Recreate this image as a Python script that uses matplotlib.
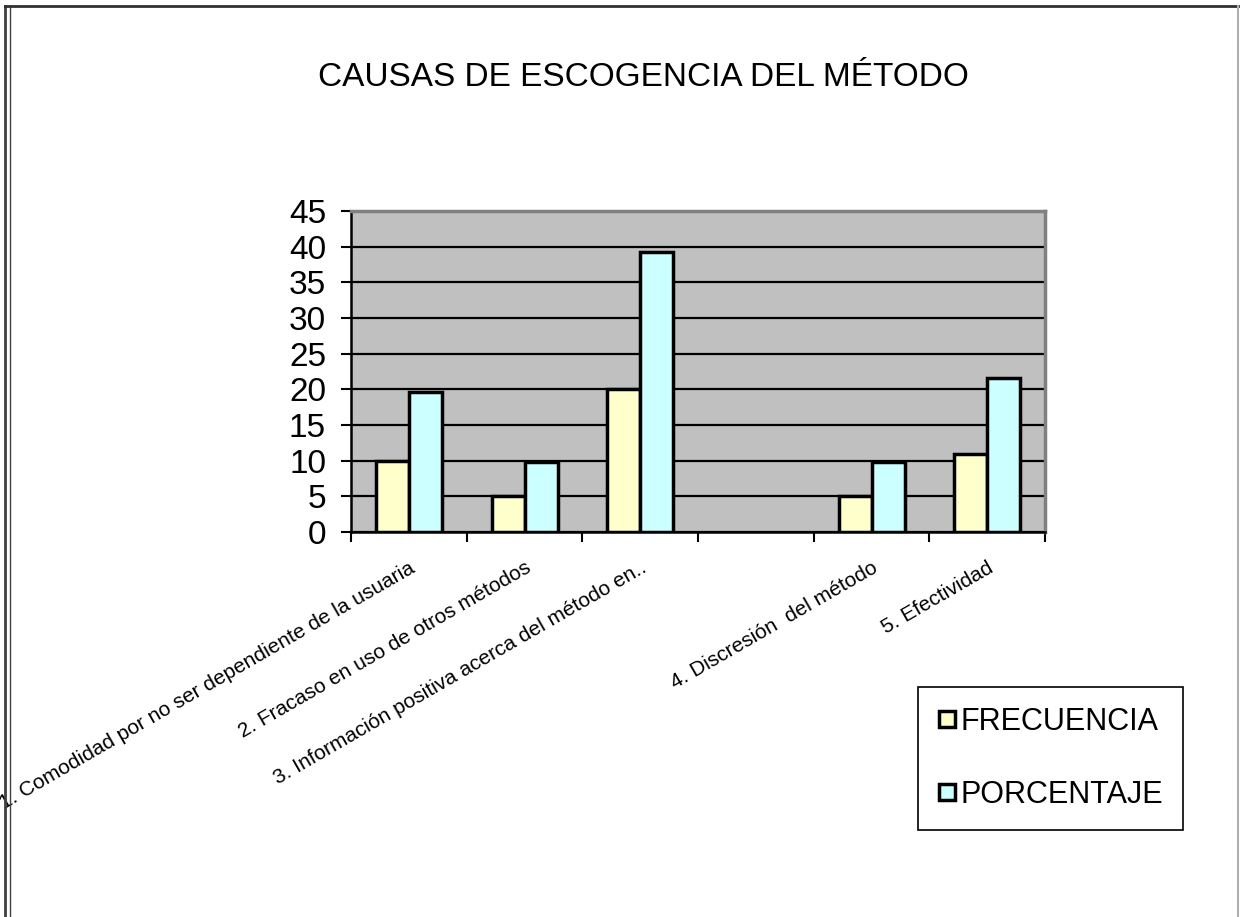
import matplotlib
matplotlib.use('Agg')
import matplotlib.pyplot as plt
import numpy as np
from matplotlib.lines import Line2D

categorias = ['1. Comodidad por no ser dependiente de la usuaria',
              '2. Fracaso en uso de otros métodos',
              '3. Información positiva acerca del método en..',
              '',
              '4. Discresión  del método',
              '5. Efectividad']
frecuencia = [10, 5, 20, np.nan, 5, 11]
porcentaje = [19.6, 9.8, 39.2, np.nan, 9.8, 21.6]
series = ['FRECUENCIA', 'PORCENTAJE']
colores = ['#FFFFCC', '#CCFFFF']

plt.rcParams['font.family'] = ['Liberation Sans', 'DejaVu Sans']

fig = plt.figure(figsize=(12.4, 9.17), dpi=100)
ax = fig.add_axes([0.2831, 0.4198, 0.5597, 0.3501])
ax.set_facecolor('#C0C0C0')

x = np.arange(len(categorias))
w = 2 / 7
ax.bar(x - w / 2, frecuencia, w, color=colores[0], edgecolor='black', linewidth=2.5, zorder=3)
ax.bar(x + w / 2, porcentaje, w, color=colores[1], edgecolor='black', linewidth=2.5, zorder=3)

ax.set_ylim(0, 45)
ax.set_xlim(-0.5, len(categorias) - 0.5)
ax.set_yticks(np.arange(0, 46, 5))
ax.yaxis.grid(True, color='black', linewidth=1.6, zorder=1)
ax.set_axisbelow(True)

ax.set_xticks(np.arange(-0.5, len(categorias), 1))
ax.set_xticklabels([])
ax.set_xticks(x, minor=True)
ax.set_xticklabels(categorias, minor=True, rotation=30, ha='right',
                   rotation_mode='anchor', fontsize=15)
ax.tick_params(axis='x', which='minor', length=0, pad=19)
ax.tick_params(axis='x', which='major', length=7, width=1.5, direction='out')
ax.tick_params(axis='y', length=7, width=1.5, direction='out', pad=11, labelsize=24)

ax.spines['left'].set_linewidth(1.8)
ax.spines['bottom'].set_linewidth(1.8)
ax.spines['top'].set_color('#808080')
ax.spines['right'].set_color('#808080')
ax.spines['top'].set_linewidth(2.5)
ax.spines['right'].set_linewidth(2.5)

fig.text(0.519, 0.915, 'CAUSAS DE ESCOGENCIA DEL MÉTODO', ha='center', va='center', fontsize=24)

handles = [Line2D([], [], marker='s', linestyle='none', markersize=12,
                  markerfacecolor=c, markeredgecolor='black', markeredgewidth=2.5)
           for c in colores]
leg = fig.legend(handles, series, loc='upper left', bbox_to_anchor=(0.740, 0.2508),
                 frameon=True, fancybox=False, edgecolor='black', framealpha=1,
                 prop={'size': 22}, handlelength=0.6,
                 handletextpad=0.15, labelspacing=1.4, borderpad=0.65, borderaxespad=0)
leg.get_frame().set_linewidth(1.2)

# marco de la figura
fig.add_artist(Line2D([0.004, 0.004], [0, 0.994], color='#404040', linewidth=2, transform=fig.transFigure))
fig.add_artist(Line2D([0.008, 0.008], [0, 0.994], color='#404040', linewidth=1, transform=fig.transFigure))
fig.add_artist(Line2D([0.004, 0.998], [0.994, 0.994], color='#303030', linewidth=2, transform=fig.transFigure))
fig.add_artist(Line2D([0.998, 0.998], [0, 0.994], color='#B0B0B0', linewidth=1.5, transform=fig.transFigure))

fig.savefig('out.png', dpi=100)
